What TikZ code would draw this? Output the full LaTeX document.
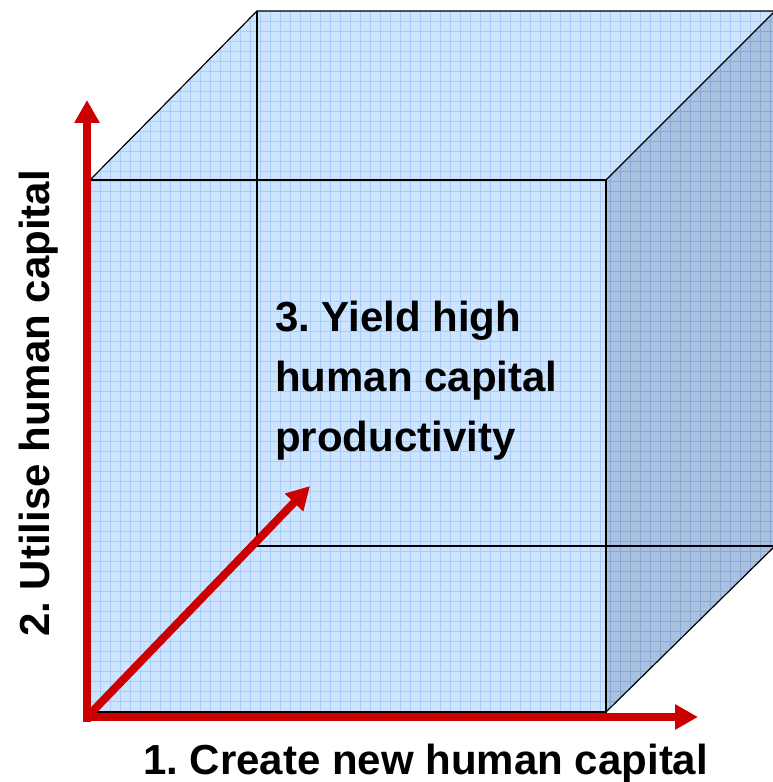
\documentclass[tikz,border=0pt]{standalone}
\usepackage{fontspec}
\setmainfont{Liberation Sans}
\usepackage{tikz}
\usetikzlibrary{arrows.meta}
\frenchspacing
\definecolor{facelight}{RGB}{205,228,255}
\definecolor{gridlight}{RGB}{168,205,250}
\definecolor{facedark}{RGB}{168,193,224}
\definecolor{griddark}{RGB}{135,168,212}
\definecolor{axisred}{RGB}{204,0,0}
\tikzset{
  edge/.style={black, line width=1.2pt},
  axis/.style={axisred, line width=8pt, -{Triangle[width=24pt,length=23pt]}},
  label/.style={inner sep=0pt, font=\fontsize{42}{60}\selectfont\bfseries}
}

\begin{document}
\begin{tikzpicture}[x=1pt, y=1pt]
  \useasboundingbox (0,0) rectangle (773,782);
  % corners of the cube
  \coordinate (ftl) at (90,602);  \coordinate (ftr) at (606,602);
  \coordinate (fbl) at (90,70);   \coordinate (fbr) at (606,70);
  \coordinate (btl) at (257,771); \coordinate (btr) at (775,771);
  \coordinate (bbl) at (257,236); \coordinate (bbr) at (775,236);
  \begin{scope}
    \clip (0,0) rectangle (773,782);
    \fill[facelight] (ftl) -- (btl) -- (btr) -- (bbr) -- (fbr) -- (fbl) -- cycle;
    \begin{scope}
      \clip (ftl) -- (btl) -- (btr) -- (bbr) -- (fbr) -- (fbl) -- cycle;
      \draw[gridlight, line width=1pt, step=10] (80,0) grid (780,780);
    \end{scope}
    \fill[facedark] (ftr) -- (btr) -- (bbr) -- (fbr) -- cycle;
    \begin{scope}
      \clip (ftr) -- (btr) -- (bbr) -- (fbr) -- cycle;
      \draw[griddark, line width=1pt, step=10] (600,0) grid (780,780);
    \end{scope}
    %\draw[edge] (fbl) -- (bbl);
    \draw[edge] (btl) -- (bbl) -- (bbr);
    \draw[edge] (ftl) -- (ftr) -- (fbr) -- (fbl) -- cycle;
    \draw[edge] (ftl) -- (btl) -- (btr);
    \draw[edge] (ftr) -- (btr);
    \draw[edge] (fbr) -- (bbr);
  \end{scope}
  % the three directions
  \coordinate (vstart) at (87,60);  \coordinate (yend) at (87,682);
  \coordinate (hstart) at (83,65);  \coordinate (xend) at (698,65);
  \coordinate (orig) at (89,67);    \coordinate (zend) at (310,296);
  \draw[axis] (vstart) -- (yend);
  \draw[axis] (hstart) -- (xend);
  \draw[axis] (orig) -- (zend);
  \node[label, anchor=north west, align=left] (yield) at (275,481)
    {3. Yield high\\human capital\\productivity};
  \node[label, anchor=base west] (create) at (143,8) {1. Create new human capital};
  \node[label, anchor=base west, rotate=90] (utilise) at (50,145) {2. Utilise human capital};
\end{tikzpicture}
\end{document}
